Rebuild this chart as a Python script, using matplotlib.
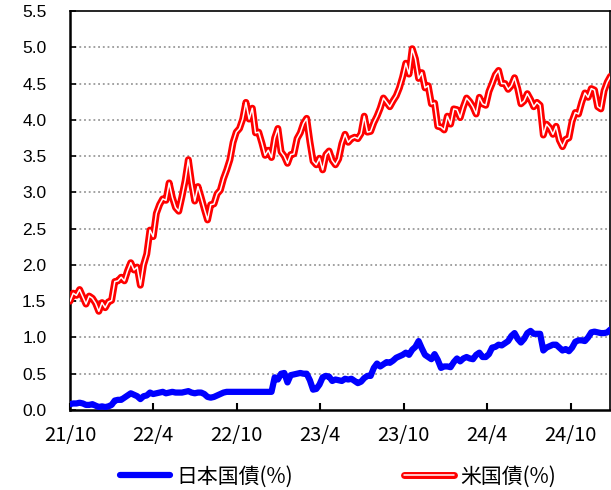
import numpy as np
import pandas as pd
import matplotlib
matplotlib.use("Agg")
import matplotlib.pyplot as plt
import matplotlib.dates as mdates
import matplotlib.patheffects as pe

# weekly closes, Friday 2021-10-01 .. 2024-12-27
dates = pd.date_range("2021-10-01", periods=170, freq="7D")

us10y = [
    1.50, 1.61, 1.58, 1.66, 1.56, 1.46, 1.57, 1.54, 1.47, 1.36, 1.48, 1.41, 1.49, 1.51,
    1.77, 1.78, 1.83, 1.78, 1.92, 2.03, 1.93, 1.97, 1.72, 2.00, 2.15, 2.48, 2.39, 2.71,
    2.83, 2.91, 2.89, 3.13, 2.93, 2.79, 2.74, 2.94, 3.16, 3.45, 3.13, 2.88, 3.08, 2.93,
    2.77, 2.62, 2.83, 2.84, 2.98, 3.03, 3.19, 3.31, 3.45, 3.69, 3.83, 3.88, 4.01, 4.24,
    4.01, 4.16, 3.82, 3.83, 3.68, 3.51, 3.58, 3.48, 3.75, 3.88,
    3.56, 3.50, 3.40, 3.52, 3.53, 3.74, 3.82, 3.95, 4.02, 3.70, 3.43, 3.38, 3.47, 3.31,
    3.52, 3.57, 3.44, 3.38, 3.46, 3.67, 3.80, 3.69, 3.74, 3.76, 3.74, 3.81, 4.05, 3.83,
    3.84, 3.96, 4.05, 4.16, 4.30, 4.24, 4.18, 4.26, 4.33, 4.44, 4.59, 4.78, 4.63, 4.98,
    4.84, 4.57, 4.65, 4.44, 4.47, 4.22, 4.23, 3.91, 3.90, 3.86,
    4.05, 3.94, 4.15, 4.14, 4.03, 4.18, 4.30, 4.25, 4.18, 4.08, 4.31, 4.22, 4.20, 4.39,
    4.50, 4.62, 4.68, 4.50, 4.50, 4.42, 4.47, 4.58, 4.43, 4.22, 4.26, 4.36, 4.28, 4.18,
    4.24, 4.20, 3.79, 3.94, 3.89, 3.80, 3.91, 3.72, 3.63, 3.73, 3.75, 3.98, 4.10, 4.08,
    4.24, 4.37, 4.31, 4.43, 4.41, 4.18, 4.15, 4.40, 4.52, 4.60,
]

jgb10y = [
    0.08, 0.09, 0.09, 0.10, 0.09, 0.07, 0.07, 0.08, 0.06, 0.04, 0.05, 0.04, 0.05, 0.07,
    0.13, 0.14, 0.14, 0.17, 0.20, 0.23, 0.21, 0.19, 0.15, 0.19, 0.20, 0.24, 0.22, 0.23,
    0.24, 0.25, 0.23, 0.24, 0.25, 0.24, 0.24, 0.24, 0.25, 0.26, 0.24, 0.23, 0.24, 0.24,
    0.22, 0.18, 0.17, 0.18, 0.20, 0.22, 0.24, 0.25, 0.25, 0.25, 0.25, 0.25, 0.25, 0.25,
    0.25, 0.25, 0.25, 0.25, 0.25, 0.25, 0.25, 0.25, 0.45, 0.42,
    0.50, 0.51, 0.38, 0.48, 0.49, 0.50, 0.51, 0.50, 0.50, 0.41, 0.28, 0.29, 0.35, 0.45,
    0.47, 0.46, 0.40, 0.42, 0.41, 0.40, 0.43, 0.42, 0.43, 0.40, 0.37, 0.39, 0.44, 0.47,
    0.47, 0.58, 0.64, 0.60, 0.63, 0.66, 0.65, 0.68, 0.72, 0.74, 0.76, 0.79, 0.76, 0.83,
    0.87, 0.95, 0.85, 0.76, 0.73, 0.70, 0.77, 0.69, 0.58, 0.60,
    0.60, 0.59, 0.66, 0.71, 0.67, 0.71, 0.73, 0.71, 0.70, 0.76, 0.79, 0.73, 0.73, 0.77,
    0.86, 0.87, 0.90, 0.89, 0.92, 0.95, 1.02, 1.06, 0.98, 0.93, 0.98, 1.06, 1.09, 1.05,
    1.05, 1.05, 0.82, 0.86, 0.88, 0.90, 0.90, 0.86, 0.82, 0.84, 0.81, 0.86, 0.94, 0.96,
    0.96, 0.95, 1.00, 1.07, 1.08, 1.07, 1.06, 1.06, 1.07, 1.11,
]

tick_dates = pd.to_datetime(["2021-10-01", "2022-04-01", "2022-10-01", "2023-04-01",
                             "2023-10-01", "2024-04-01", "2024-10-01"])
tick_labels = ["21/10", "22/4", "22/10", "23/4", "23/10", "24/4", "24/10"]
yticks = [0.0, 0.5, 1.0, 1.5, 2.0, 2.5, 3.0, 3.5, 4.0, 4.5, 5.0, 5.5]

jp_font = ["Noto Sans CJK JP", "DejaVu Sans"]

fig = plt.figure(figsize=(6.11, 4.90), dpi=100)
ax = fig.add_axes([0.1146, 0.1633, 0.8838, 0.8143])

ax.plot(dates, jgb10y, color="#0000FF", lw=4.5, solid_joinstyle="round",
        solid_capstyle="round", label="日本国債(%)", zorder=3)
ax.plot(dates, us10y, color="white", lw=1.1, label="米国債(%)", zorder=4,
        solid_joinstyle="round", solid_capstyle="round",
        path_effects=[pe.Stroke(linewidth=5.0, foreground="#FF0000"), pe.Normal()])

ax.set_ylim(0, 5.5)
ax.set_yticks(yticks)
ax.set_yticklabels([f"{v:.1f}" for v in yticks], family="Liberation Sans", fontsize=12.5)
ax.set_xlim(pd.Timestamp("2021-10-01"), pd.Timestamp("2024-12-26"))
ax.set_xticks(tick_dates)
ax.set_xticklabels(tick_labels, family=jp_font, fontsize=14.5)

ax.tick_params(axis="y", direction="in", length=4, width=1.2, pad=17, colors="black")
ax.tick_params(axis="x", direction="in", length=5, width=1.5, pad=11, colors="black")

for v in yticks[1:-1]:
    ax.axhline(v, color="#9a9a9a", lw=1.3, linestyle=(0, (1, 1.6)), zorder=1)

for side in ["left", "bottom"]:
    ax.spines[side].set_linewidth(1.8)
for side in ["top", "right"]:
    ax.spines[side].set_linewidth(1.2)
for s in ax.spines.values():
    s.set_color("black")

fig.legend(loc="center", bbox_to_anchor=(0.553, 0.027), ncol=2, frameon=False,
           prop={"family": jp_font, "size": 15}, handlelength=2.4,
           handletextpad=0.3, columnspacing=5.3)

fig.savefig("out.png", dpi=100)
